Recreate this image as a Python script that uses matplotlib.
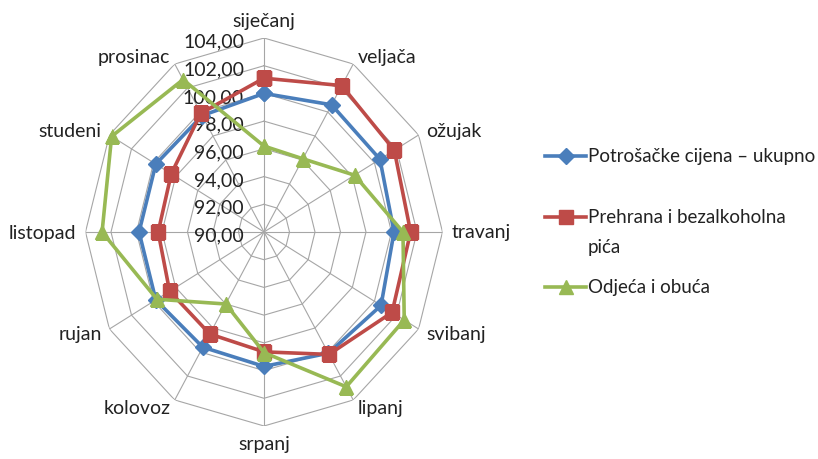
import numpy as np
import matplotlib.pyplot as plt
from matplotlib.lines import Line2D

plt.rcParams['font.family'] = ['Lato', 'DejaVu Sans']

months = ['siječanj', 'veljača', 'ožujak', 'travanj', 'svibanj', 'lipanj',
          'srpanj', 'kolovoz', 'rujan', 'listopad', 'studeni', 'prosinac']
ukupno = [100.0, 100.6, 100.5, 100.2, 100.6, 100.1,
          99.7, 99.6, 99.8, 99.8, 99.8, 99.7]
prehrana = [101.1, 102.2, 101.8, 101.5, 101.6, 100.2,
            98.65, 98.5, 98.55, 98.3, 98.4, 99.9]
odjeca = [96.2, 96.1, 98.2, 100.9, 102.7, 102.9,
          98.7, 96.0, 99.7, 102.7, 103.8, 102.7]
rings = [90, 92, 94, 96, 98, 100, 102, 104]
ring_labels = ['90,00', '92,00', '94,00', '96,00', '98,00', '100,00', '102,00', '104,00']

series = [
    (['Potrošačke cijena – ukupno'], ukupno, '#4a7ebb', 'D', 8),
    (['Prehrana i bezalkoholna', 'pića'], prehrana, '#be4b48', 's', 10),
    (['Odjeća i obuća'], odjeca, '#98b954', '^', 10),
]
legend_rows = [157, 218, 288]

W, H = 818, 460
fig = plt.figure(figsize=(W / 100, H / 100), dpi=100)
ax = fig.add_axes([85.5 / W, 33 / H, 357 / W, 388 / H], projection='polar')
ax.set_aspect('auto')
ax.set_theta_zero_location('N')
ax.set_theta_direction(-1)
ax.set_ylim(90, 104)
ax.grid(False)
ax.spines['polar'].set_visible(False)
ax.set_xticks([])
ax.set_yticks([])

theta = np.arange(len(months)) * 2 * np.pi / len(months)
closed = np.append(theta, theta[0])

# 12-sided web instead of circles
for r in rings[1:]:
    ax.plot(closed, [r] * len(closed), color='#a6a6a6', lw=0.8, zorder=1)
for t in theta:
    ax.plot([t, t], [90, 104], color='#a6a6a6', lw=0.8, zorder=1)

for r, lab in zip(rings, ring_labels):
    ax.annotate(lab, xy=(0, r), xytext=(-20, -3), textcoords='offset pixels',
                ha='right', va='center', fontsize=14, color='#222222',
                annotation_clip=False, zorder=2)

for t, name in zip(theta, months):
    s, c = np.sin(t), np.cos(t)
    ha = 'left' if s > 0.1 else ('right' if s < -0.1 else 'center')
    va = 'bottom' if c > 0.9 else ('top' if c < -0.9 else 'center')
    ax.annotate(name, xy=(t, 104), xytext=(9 * s, 9 * c), textcoords='offset pixels',
                ha=ha, va=va, fontsize=14, color='#222222', annotation_clip=False)

for lines, vals, col, mk, ms in series:
    ax.plot(closed, vals + vals[:1], color=col, lw=2.6, marker=mk, markersize=ms,
            zorder=3)

# legend entries, second line of a label sits under the first
for (lines, vals, col, mk, ms), y in zip(series, legend_rows):
    fy = 1 - y / H
    fig.add_artist(Line2D([545 / W, 586 / W], [fy, fy], transform=fig.transFigure,
                          color=col, lw=2.6))
    fig.add_artist(Line2D([565.5 / W], [fy], transform=fig.transFigure,
                          color=col, marker=mk, markersize=ms))
    for k, txt in enumerate(lines):
        fig.text(588 / W, 1 - (y + 30 * k) / H, txt, ha='left', va='center',
                 fontsize=13.5, color='#222222')

fig.savefig('out.png', dpi=100)
